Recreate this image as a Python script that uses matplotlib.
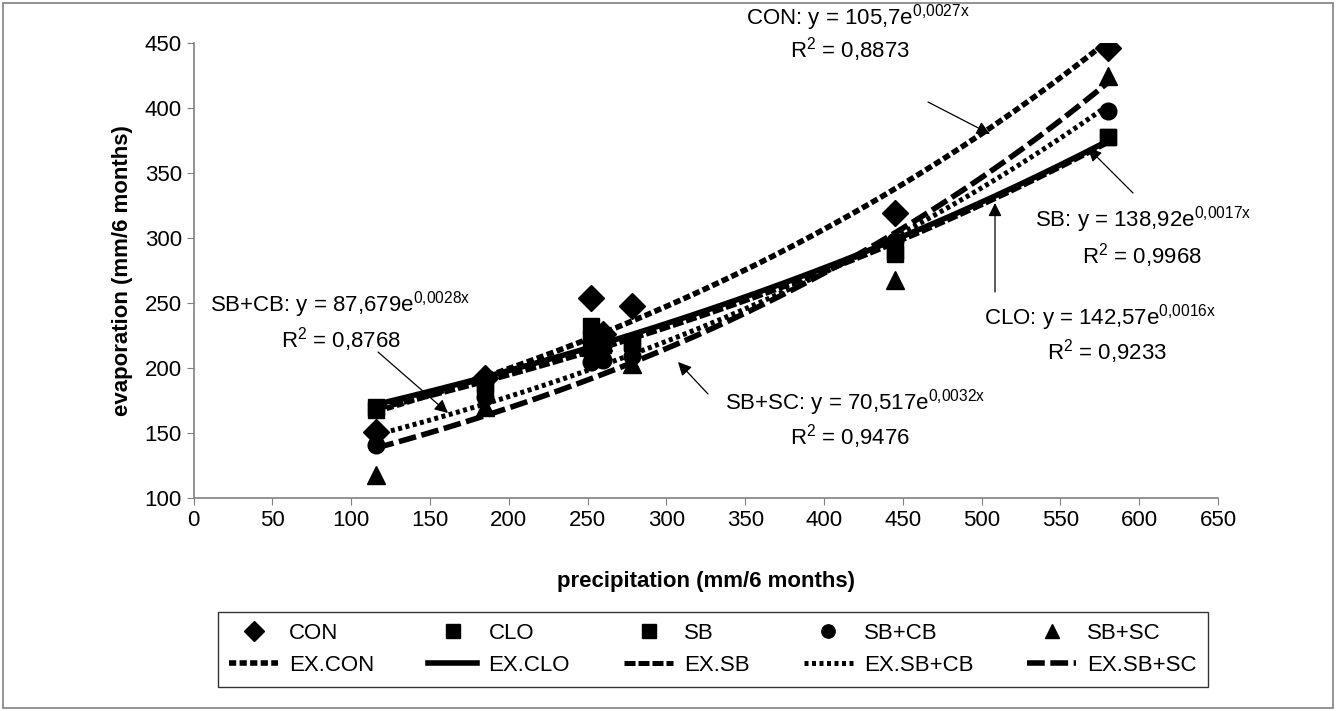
import numpy as np
import matplotlib
matplotlib.use("Agg")
import matplotlib.pyplot as plt

plt.rcParams['font.family'] = ['Liberation Sans', 'DejaVu Sans']
plt.rcParams['mathtext.fontset'] = 'custom'
plt.rcParams['mathtext.rm'] = 'Liberation Sans'
plt.rcParams['mathtext.it'] = 'Liberation Sans'

# precipitation (mm/6 months)
precip = [116, 185, 252, 260, 278, 445, 580]

# evaporation (mm/6 months) per treatment
con = [151, 192, 254, 226, 248, 319, 446]
clo = [170, 188, 232, 222, 220, 290, 378]
sb = [168, 186, 222, 218, 219, 288, 378]
sb_cb = [141, 178, 205, 206, 209, 298, 398]
sb_sc = [118, 170, 216, 220, 203, 268, 425]

names = ['CON', 'CLO', 'SB', 'SB+CB', 'SB+SC']
series = [con, clo, sb, sb_cb, sb_sc]
markers = ['D', 's', 's', 'o', '^']
msizes = [13, 12, 12, 12, 13]
styles = [(0, (1.3, 0.6)), '-', (0, (2.2, 0.6)), (0, (0.8, 0.7)), (0, (3.2, 1.0))]
widths = [4, 4, 3.6, 3.6, 4]

W, H = 1337, 711
fig = plt.figure(figsize=(W / 100, H / 100), dpi=100)
ax = fig.add_axes([193.6 / W, 1 - 498 / H, (1218 - 193.6) / W, 455 / H])

pts = []
fits = []
x = np.array(precip, dtype=float)
xs = np.linspace(x.min(), x.max(), 200)
# draw SB+SC first so the other markers sit on top of it
order = [4, 0, 1, 2, 3]
for i in order:
    name, y = names[i], series[i]
    p, = ax.plot(x, y, linestyle='none', marker=markers[i], markersize=msizes[i],
                 color='black', label=name, zorder=2 + order.index(i) * 0.1)
    # exponential trendline, fitted on log values like Excel does
    b, lna = np.polyfit(x, np.log(y), 1)
    f, = ax.plot(xs, np.exp(lna + b * xs), color='black', linestyle=styles[i],
                 linewidth=widths[i], label='EX.' + name)
    pts.append((i, p))
    fits.append((i, f))
pts = [p for i, p in sorted(pts, key=lambda t: t[0])]
fits = [f for i, f in sorted(fits, key=lambda t: t[0])]

ax.set_xlim(0, 650)
ax.set_ylim(100, 450)
ax.set_xticks(range(0, 651, 50))
ax.set_yticks(range(100, 451, 50))
ax.tick_params(labelsize=16, length=5, color='#808080', direction='out')
for s in ['top', 'right']:
    ax.spines[s].set_visible(False)
for s in ['left', 'bottom']:
    ax.spines[s].set_color('#808080')
    ax.spines[s].set_linewidth(1.2)

ax.set_xlabel('precipitation (mm/6 months)', fontsize=16, fontweight='bold')
ax.xaxis.set_label_coords(0.5, -0.16)
ax.set_ylabel('evaporation (mm/6 months)', fontsize=16, fontweight='bold', labelpad=8)

# equation labels (pixel positions of centres)
fs = 16
labels = [
    ('CON: y = 105,7e$^{\\mathrm{0{,}0027x}}$', 858, 18),
    ('R$^{\\mathrm{2}}$ = 0,8873', 850, 50),
    ('SB: y = 138,92e$^{\\mathrm{0{,}0017x}}$', 1143, 220),
    ('R$^{\\mathrm{2}}$ = 0,9968', 1142, 256),
    ('CLO: y = 142,57e$^{\\mathrm{0{,}0016x}}$', 1100, 318),
    ('R$^{\\mathrm{2}}$ = 0,9233', 1107, 352),
    ('SB+SC: y = 70,517e$^{\\mathrm{0{,}0032x}}$', 855, 403),
    ('R$^{\\mathrm{2}}$ = 0,9476', 850, 437),
    ('SB+CB: y = 87,679e$^{\\mathrm{0{,}0028x}}$', 340, 305),
    ('R$^{\\mathrm{2}}$ = 0,8768', 341, 340),
]
for txt, px, py in labels:
    fig.text(px / W, 1 - py / H, txt, fontsize=fs, ha='center', va='center')

arrows = [((928, 102), (990, 134)),
          ((1133, 193), (1088, 148)),
          ((995, 292), (995, 203)),
          ((708, 394), (678, 362)),
          ((378, 352), (448, 413))]
for tail, head in arrows:
    ax.annotate('', xy=(head[0] / W, 1 - head[1] / H), xycoords='figure fraction',
                xytext=(tail[0] / W, 1 - tail[1] / H), textcoords='figure fraction',
                arrowprops=dict(arrowstyle='-|>', color='black', lw=0.9,
                                mutation_scale=20, shrinkA=0, shrinkB=0))

handles = []
for p, f in zip(pts, fits):
    handles += [p, f]
leg = fig.legend(handles=handles, labels=[h.get_label() for h in handles],
                 ncol=5, loc='upper left',
                 bbox_to_anchor=(218 / W, 1 - 612 / H, 990 / W, 0),
                 mode='expand', fontsize=16, frameon=True, fancybox=False,
                 edgecolor='black', handlelength=2.2, handletextpad=0.5,
                 borderpad=0.5, labelspacing=0.5, columnspacing=0.5,
                 markerscale=0.8, borderaxespad=0)
leg.get_frame().set_linewidth(1.0)

fig.patches.append(plt.Rectangle((0.002, 0.004), 0.995, 0.992, transform=fig.transFigure,
                                 fill=False, edgecolor='#808080', linewidth=1.2))

fig.savefig('out.png', dpi=100)
